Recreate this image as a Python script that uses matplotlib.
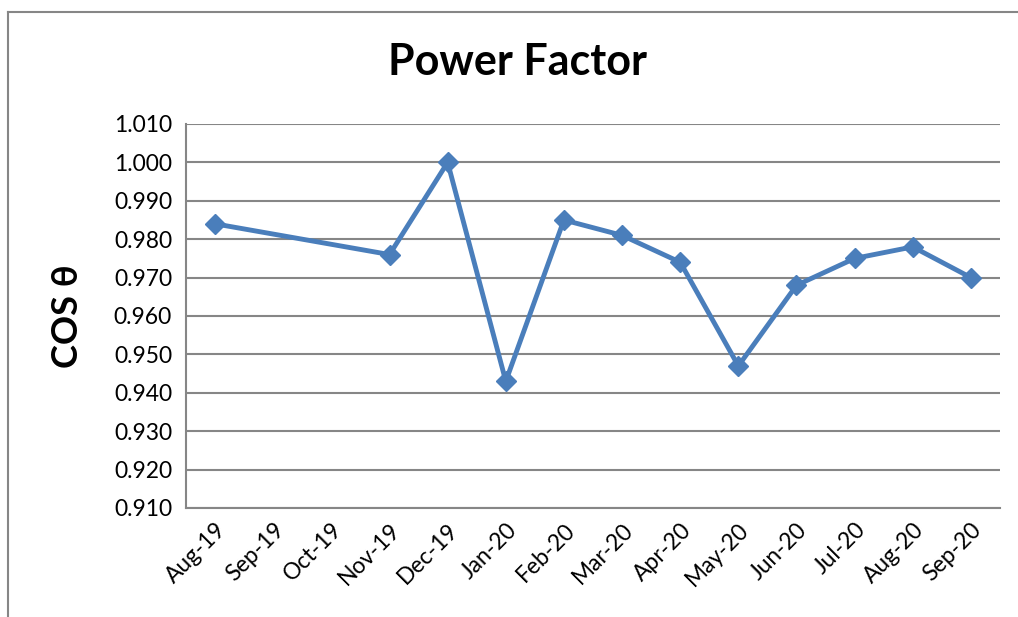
import matplotlib.pyplot as plt
from matplotlib.lines import Line2D

plt.rcParams['font.family'] = ['Lato', 'DejaVu Sans']

# data
months = ['Aug-19', 'Sep-19', 'Oct-19', 'Nov-19', 'Dec-19', 'Jan-20', 'Feb-20',
          'Mar-20', 'Apr-20', 'May-20', 'Jun-20', 'Jul-20', 'Aug-20', 'Sep-20']
power_factor = [0.984, None, None, 0.976, 1.000, 0.943, 0.985,
                0.981, 0.974, 0.947, 0.968, 0.975, 0.978, 0.970]
y_ticks = [0.910, 0.920, 0.930, 0.940, 0.950, 0.960, 0.970, 0.980, 0.990, 1.000, 1.010]

# gaps are skipped, line joins the remaining points
xs = [i for i, v in enumerate(power_factor) if v is not None]
ys = [v for v in power_factor if v is not None]

fig = plt.figure(figsize=(10.18, 6.17), dpi=100)
ax = fig.add_axes([186 / 1018, 1 - 508 / 617, 814 / 1018, 384 / 617])

# outer chart border (only left and top show in the crop)
bx, by = 7.5 / 1018, 1 - 11.5 / 617
fig.lines.append(Line2D([bx, bx], [0, by], transform=fig.transFigure,
                        color='#868686', linewidth=1.5))
fig.lines.append(Line2D([bx, 1], [by, by], transform=fig.transFigure,
                        color='#868686', linewidth=1.5))

ax.plot(xs, ys, color='#4a7ebb', linewidth=3.5, marker='D', markersize=10,
        zorder=3)

ax.set_xlim(-0.5, len(months) - 0.5)
ax.set_ylim(0.910, 1.010)
ax.set_yticks(y_ticks)
ax.set_yticklabels([f'{t:.3f}' for t in y_ticks], fontsize=16.5)
ax.set_xticks(range(len(months)))
ax.set_xticklabels(months, rotation=45, ha='right', rotation_mode='anchor',
                   fontsize=16.5)
ax.tick_params(axis='both', length=0)
ax.tick_params(axis='y', pad=10)
ax.tick_params(axis='x', pad=8)

ax.grid(axis='y', color='#868686', linewidth=1.5)
ax.set_axisbelow(True)
for side in ['top', 'right']:
    ax.spines[side].set_visible(False)
for side in ['left', 'bottom']:
    ax.spines[side].set_color('#868686')
    ax.spines[side].set_linewidth(1.5)

fig.text(518 / 1018, 1 - 62 / 617, 'Power Factor', ha='center', va='center',
         fontsize=31, fontweight='bold')
fig.text(67 / 1018, 1 - 316 / 617, 'COS θ', ha='center', va='center',
         rotation=90, fontsize=26, fontweight='bold')

fig.savefig('out.png', dpi=100)
